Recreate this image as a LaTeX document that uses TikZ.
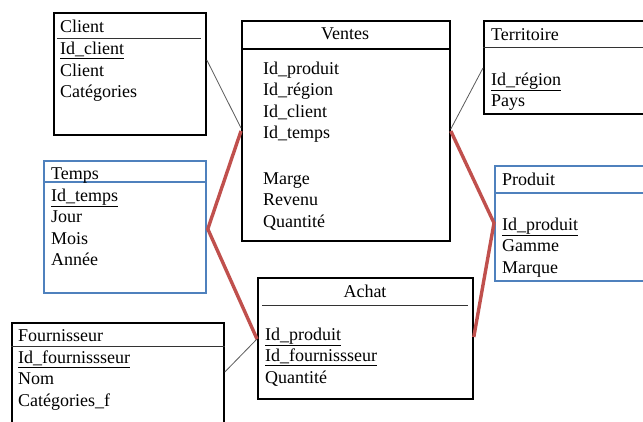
\documentclass[tikz,border=0pt]{standalone}
\usepackage{fontspec}
\setmainfont{Liberation Serif}
\usetikzlibrary{calc}
\definecolor{fkred}{HTML}{C0504D}
\definecolor{dimblue}{HTML}{4F81BD}
\begin{document}
\begin{tikzpicture}[x=1pt, y=-1pt,
    table/.style = {rectangle, draw, line width=1.8pt, anchor=north west, inner sep=0pt},
    bluetable/.style = {table, draw=dimblue},
    field/.style = {anchor=base west, inner sep=0pt, font=\fontsize{18}{21.5}\selectfont},
    title/.style = {field, anchor=base},
    head/.style = {line width=0.9pt, black!80},
    link/.style = {line width=0.8pt, black!65},
    fk/.style = {line width=3.4pt, fkred}]
    \useasboundingbox (0,0) rectangle (643,421);
    \clip (0,0) rectangle (643,421);

    % tables
    \node[table, minimum width=152pt, minimum height=122pt] (client) at (53,12) {};
    \node[table, minimum width=208pt, minimum height=220pt] (ventes) at (241,20) {};
    \node[table, minimum width=200pt, minimum height=93pt] (territoire) at (483,20) {};
    \node[bluetable, minimum width=162pt, minimum height=132pt] (temps) at (43,160) {};
    \node[bluetable, minimum width=200pt, minimum height=115pt] (produit) at (494,165) {};
    \node[table, minimum width=215pt, minimum height=121pt] (achat) at (257,277) {};
    \node[table, minimum width=212pt, minimum height=150pt] (fournisseur) at (11,322) {};

    % header lines
    \draw[head] ($(client.north west)+(4,26)$) -- ($(client.north east)+(-6,26)$);
    \draw[line width=1.6pt] ($(ventes.north west)+(0,29)$) -- ($(ventes.north east)+(0,29)$);
    \draw[head] ($(territoire.north west)+(0,27)$) -- ($(territoire.north east)+(0,27)$);
    \draw[line width=1.6pt, dimblue] ($(temps.north west)+(0,22)$) -- ($(temps.north east)+(0,22)$);
    \draw[line width=1.6pt, dimblue] ($(produit.north west)+(0,28)$) -- ($(produit.north east)+(0,28)$);
    \draw[head] ($(achat.north west)+(5,28)$) -- ($(achat.north east)+(-6,28)$);
    \draw[head] ($(fournisseur.north west)+(0,24)$) -- ($(fournisseur.north east)+(0,24)$);

    % titles
    \node[field] (clientT) at (60,32) {Client};
    \node[title] (ventesT) at (345,39) {Ventes};
    \node[field] (territoireT) at (491,40) {Territoire};
    \node[field] (tempsT) at (51,179) {Temps};
    \node[field] (produitT) at (502,185) {Produit};
    \node[title] (achatT) at (365,297) {Achat};
    \node[field] (fournisseurT) at (18,341) {Fournisseur};

    % fields
    \foreach \t [count=\i] in {\underline{Id\_client}, Client, Catégories}
        \node[field] (client\i) at (60,{54.5+21.5*(\i-1)}) {\t};
    \foreach \t [count=\i] in {Id\_produit, Id\_région, Id\_client, Id\_temps}
        \node[field] (ventes\i) at (263,{74+21.5*(\i-1)}) {\t};
    \foreach \t [count=\i] in {Marge, Revenu, Quantité}
        \node[field] (mesure\i) at (263,{184+21.5*(\i-1)}) {\t};
    \foreach \t [count=\i] in {\underline{Id\_région}, Pays}
        \node[field] (territoire\i) at (491,{85+21.5*(\i-1)}) {\t};
    \foreach \t [count=\i] in {\underline{Id\_temps}, Jour, Mois, Année}
        \node[field] (temps\i) at (51,{201+21.5*(\i-1)}) {\t};
    \foreach \t [count=\i] in {\underline{Id\_produit}, Gamme, Marque}
        \node[field] (produit\i) at (502,{230+21.5*(\i-1)}) {\t};
    \foreach \t [count=\i] in {\underline{Id\_produit}, \underline{Id\_fournissseur}, Quantité}
        \node[field] (achat\i) at (265,{340+21.5*(\i-1)}) {\t};
    \foreach \t [count=\i] in {\underline{Id\_fournissseur}, Nom, Catégories\_f}
        \node[field] (fournisseur\i) at (18,{363+21.5*(\i-1)}) {\t};

    % links
    \draw[link] ($(client.north east)+(0,48)$) -- ($(ventes.north west)+(0,108)$);
    \draw[link] ($(territoire.north west)+(0,48)$) -- ($(ventes.north east)+(0,109)$);
    \draw[link] ($(fournisseur.north east)+(0,50)$) -- ($(achat.north west)+(0,62)$);

    \draw[fk] ($(ventes.north west)+(0,111)$) -- ($(temps.north east)+(1,69)$) -- ($(achat.north west)+(0,62)$);
    \draw[fk] ($(ventes.north east)+(0,111)$) -- ($(produit.north west)+(0,58)$) -- ($(achat.north east)+(0,60)$);
\end{tikzpicture}
\end{document}
